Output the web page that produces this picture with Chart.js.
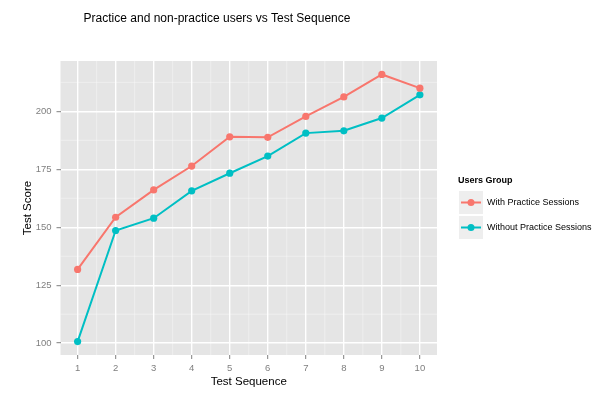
<!DOCTYPE html>
<html>
<head>
<meta charset="utf-8">
<script src="https://cdn.jsdelivr.net/npm/chart.js@4.4.1/dist/chart.umd.min.js"></script>
<style>
  html, body { margin: 0; padding: 0; background: #ffffff; }
  #wrap { width: 600px; height: 396px; position: relative; }
</style>
</head>
<body>
<div id="wrap"><canvas id="c" width="600" height="396"></canvas></div>
<script>
const chartTitle = "Practice and non-practice users vs Test Sequence";
const xTitle = "Test Sequence";
const yTitle = "Test Score";
const legendTitle = "Users Group";
const testSequence = [1, 2, 3, 4, 5, 6, 7, 8, 9, 10];
const withPractice = [131.8, 154.3, 166.1, 176.4, 189.0, 188.8, 197.8, 206.2, 215.9, 210.0];
const withoutPractice = [100.7, 148.6, 153.9, 165.7, 173.3, 180.7, 190.6, 191.6, 197.1, 207.1];
const seriesNames = ["With Practice Sessions", "Without Practice Sessions"];
const seriesColors = ["#F8766D", "#00BFC4"];
const xTicks = [1, 2, 3, 4, 5, 6, 7, 8, 9, 10];
const yTicks = [100, 125, 150, 175, 200];
const xMinor = [1.5, 2.5, 3.5, 4.5, 5.5, 6.5, 7.5, 8.5, 9.5];
const yMinor = [112.5, 137.5, 162.5, 187.5, 212.5];

const FONT = "'Liberation Sans', Arial, Helvetica, sans-serif";

function toPoints(xs, ys) { return xs.map((x, i) => ({ x: x, y: ys[i] })); }

const panelPlugin = {
  id: 'panel',
  beforeDraw(chart) {
    const { ctx, chartArea: a, scales } = chart;
    ctx.save();
    ctx.fillStyle = '#E5E5E5';
    ctx.fillRect(a.left, a.top, a.right - a.left, a.bottom - a.top);
    ctx.strokeStyle = 'rgba(255,255,255,0.55)';
    ctx.lineWidth = 0.7;
    xMinor.forEach(v => {
      const px = scales.x.getPixelForValue(v);
      ctx.beginPath(); ctx.moveTo(px, a.top); ctx.lineTo(px, a.bottom); ctx.stroke();
    });
    yMinor.forEach(v => {
      const py = scales.y.getPixelForValue(v);
      ctx.beginPath(); ctx.moveTo(a.left, py); ctx.lineTo(a.right, py); ctx.stroke();
    });
    ctx.restore();
  },
  afterDraw(chart) {
    const { ctx } = chart;
    ctx.save();
    // Title
    ctx.fillStyle = '#000000';
    ctx.font = '12px ' + FONT;
    ctx.textAlign = 'center';
    ctx.textBaseline = 'middle';
    ctx.fillText(chartTitle, 217, 19);
    // Legend
    ctx.textAlign = 'left';
    ctx.font = 'bold 9px ' + FONT;
    ctx.fillText(legendTitle, 458, 181);
    chart.data.datasets.forEach((ds, i) => {
      const top = 191 + i * 25;
      ctx.fillStyle = '#EEEEEE';
      ctx.fillRect(459, top, 24, 23);
      const cy = top + 11.5;
      ctx.strokeStyle = ds.borderColor;
      ctx.lineWidth = 2;
      ctx.beginPath(); ctx.moveTo(461, cy); ctx.lineTo(481, cy); ctx.stroke();
      ctx.fillStyle = ds.borderColor;
      ctx.beginPath(); ctx.arc(471, cy, 3.5, 0, Math.PI * 2); ctx.fill();
      ctx.fillStyle = '#000000';
      ctx.font = '9px ' + FONT;
      ctx.textBaseline = 'middle';
      ctx.fillText(ds.label, 487, cy);
    });
    ctx.restore();
  }
};

new Chart(document.getElementById('c'), {
  type: 'line',
  data: {
    datasets: [
      { label: seriesNames[0], data: toPoints(testSequence, withPractice), borderColor: seriesColors[0], backgroundColor: seriesColors[0], borderWidth: 2, pointRadius: 3.6, pointBorderWidth: 0, pointBackgroundColor: seriesColors[0], tension: 0 },
      { label: seriesNames[1], data: toPoints(testSequence, withoutPractice), borderColor: seriesColors[1], backgroundColor: seriesColors[1], borderWidth: 2, pointRadius: 3.6, pointBorderWidth: 0, pointBackgroundColor: seriesColors[1], tension: 0 }
    ]
  },
  options: {
    responsive: false,
    animation: false,
    layout: { padding: { left: 0, top: 61, right: 163, bottom: 0 } },
    plugins: { legend: { display: false }, title: { display: false }, tooltip: { enabled: false } },
    scales: {
      x: {
        type: 'linear',
        min: 0.55, max: 10.45,
        afterBuildTicks: s => { s.ticks = xTicks.map(v => ({ value: v })); },
        afterFit: s => { s.height = 41; },
        grid: { color: '#FFFFFF', lineWidth: 1.4, drawTicks: true, tickLength: 4, tickColor: '#7F7F7F', tickWidth: 1 },
        border: { display: false },
        ticks: { color: '#7F7F7F', font: { family: FONT, size: 9.5 }, padding: 4, maxRotation: 0, autoSkip: false },
        title: { display: true, text: xTitle, color: '#000000', font: { family: FONT, size: 11.5 }, padding: { top: 0, bottom: 7 } }
      },
      y: {
        type: 'linear',
        min: 94.9, max: 221.7,
        afterBuildTicks: s => { s.ticks = yTicks.map(v => ({ value: v })); },
        afterFit: s => { s.width = 60.5; },
        grid: { color: '#FFFFFF', lineWidth: 1.4, drawTicks: true, tickLength: 4, tickColor: '#7F7F7F', tickWidth: 1 },
        border: { display: false },
        ticks: { color: '#7F7F7F', font: { family: FONT, size: 9.5 }, padding: 5, autoSkip: false },
        title: { display: true, text: yTitle, color: '#000000', font: { family: FONT, size: 11.5 }, padding: { top: 21, bottom: 0 } }
      }
    }
  },
  plugins: [panelPlugin]
});
</script>
</body>
</html>
